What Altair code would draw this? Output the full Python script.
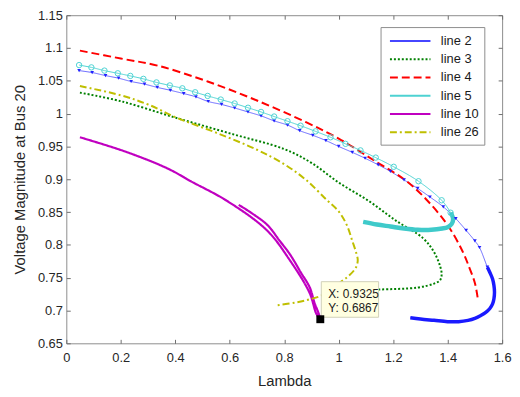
import altair as alt
import pandas as pd

# ---------------- data ----------------
series_names = ["line 2", "line 3", "line 4", "line 5", "line 10", "line 26"]

# line 2 (blue, triangle markers) - upper branch with markers
line2_x = [0.047, 0.095, 0.144, 0.192, 0.238, 0.287, 0.334, 0.382, 0.431, 0.476, 0.521, 0.570,
           0.618, 0.667, 0.715, 0.763, 0.812, 0.857, 0.905, 0.953, 1.0, 1.05, 1.097, 1.145,
           1.19, 1.24, 1.29, 1.335, 1.384, 1.43, 1.468, 1.50, 1.517, 1.546]
line2_y = [1.0656, 1.0626, 1.058, 1.054, 1.049, 1.045, 1.040, 1.0356, 1.0306, 1.0256, 1.0185, 1.014,
           1.0086, 1.0026, 0.9966, 0.989, 0.9826, 0.974, 0.967, 0.959, 0.950, 0.941, 0.932, 0.922,
           0.912, 0.899, 0.886, 0.873, 0.858, 0.840, 0.822, 0.806, 0.796, 0.766]
# line 2 densely sampled nose / lower branch
line2_nose_x = [1.546, 1.555, 1.565, 1.57, 1.572, 1.57, 1.565, 1.555, 1.54, 1.52, 1.50, 1.475,
                1.44, 1.40, 1.35, 1.30, 1.263]
line2_nose_y = [0.766, 0.758, 0.748, 0.738, 0.728, 0.718, 0.710, 0.703, 0.697, 0.692, 0.688, 0.685,
                0.683, 0.683, 0.685, 0.687, 0.689]

# line 3 (green dotted)
line3_x = [0.05, 0.2, 0.4, 0.6, 0.8, 0.9, 1.0, 1.11, 1.21, 1.31, 1.35, 1.372, 1.378, 1.372,
           1.35, 1.29, 1.147, 1.05]
line3_y = [1.032, 1.019, 0.994, 0.970, 0.946, 0.925, 0.895, 0.867, 0.837, 0.810, 0.789, 0.768,
           0.755, 0.746, 0.741, 0.735, 0.732, 0.731]

# line 4 (red dashed)
line4_x = [0.05, 0.2, 0.337, 0.519, 0.70, 0.88, 1.0, 1.136, 1.24, 1.32, 1.40, 1.455, 1.48, 1.50, 1.51]
line4_y = [1.096, 1.084, 1.073, 1.049, 1.020, 0.987, 0.962, 0.927, 0.900, 0.870, 0.830, 0.790,
           0.765, 0.742, 0.720]

# line 5 (cyan, circle markers) - upper branch with markers
line5_x = [0.047, 0.092, 0.140, 0.189, 0.235, 0.283, 0.331, 0.380, 0.426, 0.473, 0.519, 0.567,
           0.618, 0.667, 0.715, 0.763, 0.812, 0.860, 0.915, 0.97, 1.025, 1.08, 1.136, 1.202,
           1.293, 1.378, 1.411]
line5_y = [1.074, 1.0705, 1.0656, 1.0615, 1.0575, 1.053, 1.0476, 1.043, 1.0386, 1.0326, 1.027,
           1.0215, 1.0155, 1.009, 1.0026, 0.9956, 0.9885, 0.9816, 0.973, 0.964, 0.954, 0.944,
           0.933, 0.919, 0.897, 0.868, 0.849]
# line 5 densely sampled return branch
line5_band_x = [1.411, 1.42, 1.415, 1.40, 1.38, 1.34, 1.29, 1.24, 1.19, 1.14, 1.09]
line5_band_y = [0.849, 0.840, 0.832, 0.827, 0.825, 0.823, 0.823, 0.825, 0.828, 0.831, 0.835]

# line 10 (magenta solid)
line10_x = [0.05, 0.218, 0.374, 0.457, 0.59, 0.737, 0.82, 0.893, 0.918, 0.9325,
            0.926, 0.911, 0.894, 0.861, 0.822, 0.782, 0.739, 0.682, 0.633]
line10_y = [0.964, 0.942, 0.916, 0.897, 0.867, 0.822, 0.777, 0.727, 0.695, 0.6867,
            0.696, 0.712, 0.735, 0.758, 0.785, 0.807, 0.830, 0.848, 0.861]

# line 26 (olive dash-dot)
line26_x = [0.05, 0.2, 0.3, 0.41, 0.55, 0.70, 0.80, 0.88, 0.955, 1.0, 1.03, 1.05, 1.065, 1.07,
            1.066, 1.056, 1.035, 1.016, 0.943, 0.893, 0.84, 0.773]
line26_y = [1.042, 1.028, 1.014, 0.993, 0.971, 0.945, 0.923, 0.899, 0.869, 0.851, 0.830, 0.806,
            0.787, 0.777, 0.768, 0.761, 0.752, 0.746, 0.724, 0.717, 0.712, 0.708]

# data tip
tip_x = 0.9325
tip_y = 0.6867

x_ticks = [0, 0.2, 0.4, 0.6, 0.8, 1.0, 1.2, 1.4, 1.6]
y_ticks = [0.65, 0.7, 0.75, 0.8, 0.85, 0.9, 0.95, 1.0, 1.05, 1.1, 1.15]

# ---------------- styles ----------------
colors = ["#4646ff", "#008000", "#ff0000", "#4dd2d2", "#c000c0", "#bfbf00"]
dashes = [[1, 0], [2, 2], [8, 4], [1, 0], [1, 0], [7, 3, 2, 3]]
widths = [0.8, 2, 2, 1, 2.2, 2]
interp = "catmull-rom"

paths = {
    "line 2": (line2_x + line2_nose_x[1:], line2_y + line2_nose_y[1:]),
    "line 3": (line3_x, line3_y),
    "line 4": (line4_x, line4_y),
    "line 5": (line5_x + line5_band_x[1:], line5_y + line5_band_y[1:]),
    "line 10": (line10_x, line10_y),
    "line 26": (line26_x, line26_y),
}

xs = alt.Scale(domain=[0, 1.6], nice=False, zero=False)
ys = alt.Scale(domain=[0.65, 1.15], nice=False, zero=False)
col_scale = alt.Scale(domain=series_names, range=colors)
dash_scale = alt.Scale(domain=series_names, range=dashes)

leg = alt.Legend(title=None, orient="none", legendX=318, legendY=12,
                 symbolType="M-2.5625,0H2.5625", symbolSize=256, symbolStrokeWidth=2,
                 symbolOffset=16, labelOffset=22,
                 labelFontSize=13, labelFont="Liberation Sans",
                 labelColor="#1a1a1a", rowPadding=2.5, padding=5,
                 fillColor="white", strokeColor="#8c8c8c")

x_axis = alt.Axis(values=x_ticks, format="~g", orient="bottom", offset=-4, tickSize=4,
                  labelPadding=8, titlePadding=10, labelFlush=False, labelOverlap=False,
                  domain=False, grid=False)
y_axis = alt.Axis(values=y_ticks, format="~g", orient="left", offset=-4, tickSize=4,
                  labelPadding=4, titlePadding=10, labelFlush=False, labelOverlap=False,
                  domain=False, grid=False)

layers = []
for k, name in enumerate(series_names):
    px, py = paths[name]
    d = pd.DataFrame({"x": px, "y": py, "series": name, "i": range(len(px))})
    first = (k == 0)
    layers.append(
        alt.Chart(d).mark_line(strokeWidth=widths[k], clip=True, interpolate=interp).encode(
            x=alt.X("x:Q", scale=xs, axis=x_axis if first else None, title="Lambda"),
            y=alt.Y("y:Q", scale=ys, axis=y_axis if first else None,
                    title="Voltage Magnitude at Bus 20"),
            color=alt.Color("series:N", scale=col_scale, legend=leg),
            strokeDash=alt.StrokeDash("series:N", scale=dash_scale, legend=leg),
            order="i:Q",
        )
    )

# dense (thick) portions
d2 = pd.DataFrame({"x": line2_nose_x, "y": line2_nose_y, "i": range(len(line2_nose_x))})
layers.append(alt.Chart(d2).mark_line(color="#1a1aff", strokeWidth=3.5, interpolate=interp).encode(
    x=alt.X("x:Q", scale=xs, axis=None), y=alt.Y("y:Q", scale=ys, axis=None), order="i:Q"))
d5 = pd.DataFrame({"x": line5_band_x, "y": line5_band_y, "i": range(len(line5_band_x))})
layers.append(alt.Chart(d5).mark_line(color="#3fcaca", strokeWidth=4.5, interpolate=interp).encode(
    x=alt.X("x:Q", scale=xs, axis=None), y=alt.Y("y:Q", scale=ys, axis=None), order="i:Q"))

# markers
m2 = pd.DataFrame({"x": line2_x, "y": line2_y})
layers.append(alt.Chart(m2).mark_point(shape="triangle-down", filled=True, size=14,
                                       color="#2020ff", opacity=1).encode(
    x=alt.X("x:Q", scale=xs, axis=None), y=alt.Y("y:Q", scale=ys, axis=None)))
m5 = pd.DataFrame({"x": line5_x, "y": line5_y})
layers.append(alt.Chart(m5).mark_point(shape="circle", filled=False, size=30,
                                       color="#4dd2d2", strokeWidth=1, opacity=1).encode(
    x=alt.X("x:Q", scale=xs, axis=None), y=alt.Y("y:Q", scale=ys, axis=None)))

# frame ticks on top and right
top_axis = alt.Axis(values=x_ticks, orient="top", labels=False, title=None, offset=-4, tickSize=4,
                    domain=False, grid=False)
right_axis = alt.Axis(values=y_ticks, orient="right", labels=False, title=None, offset=-4,
                      tickSize=4, domain=False, grid=False)
layers.append(alt.Chart(m5).mark_point(opacity=0).encode(
    x=alt.X("x:Q", scale=xs, axis=top_axis), y=alt.Y("y:Q", scale=ys, axis=right_axis)))

# data tip
tip = pd.DataFrame({"x": [tip_x], "y": [tip_y],
                    "l1": [f"X: {tip_x}"], "l2": [f"Y: {tip_y}"]})
layers.append(alt.Chart(tip).mark_rect(xOffset=1, x2Offset=59, yOffset=-38, y2Offset=-2,
                                       fill="#ffffe1", stroke="#d0d0b8", strokeWidth=1).encode(
    x=alt.X("x:Q", scale=xs, axis=None), x2="x:Q",
    y=alt.Y("y:Q", scale=ys, axis=None), y2="y:Q"))
layers.append(alt.Chart(tip).mark_text(align="left", baseline="middle", dx=8, dy=-25, fontSize=12,
                                       font="Liberation Sans", color="#1a1a1a").encode(
    x=alt.X("x:Q", scale=xs, axis=None), y=alt.Y("y:Q", scale=ys, axis=None), text="l1:N"))
layers.append(alt.Chart(tip).mark_text(align="left", baseline="middle", dx=8, dy=-11, fontSize=12,
                                       font="Liberation Sans", color="#1a1a1a").encode(
    x=alt.X("x:Q", scale=xs, axis=None), y=alt.Y("y:Q", scale=ys, axis=None), text="l2:N"))
layers.append(alt.Chart(tip).mark_square(size=64, color="black", filled=True, opacity=1).encode(
    x=alt.X("x:Q", scale=xs, axis=None), y=alt.Y("y:Q", scale=ys, axis=None)))

chart = alt.layer(*layers).resolve_axis(x="independent", y="independent").properties(
    width=441, height=332,
    autosize=alt.AutoSizeParams(type="none"),
    padding={"left": 59, "top": 5, "right": 10, "bottom": 50},
).configure_view(stroke="#8c8c8c", strokeWidth=1).configure_axis(
    labelFont="Liberation Sans", titleFont="Liberation Sans", labelFontSize=13,
    titleFontSize=15, titleFontWeight="normal", labelColor="#262626", titleColor="#262626",
    tickColor="#6e6e6e",
)

chart.save("out.html", embed_options={"renderer": "svg", "actions": False})
